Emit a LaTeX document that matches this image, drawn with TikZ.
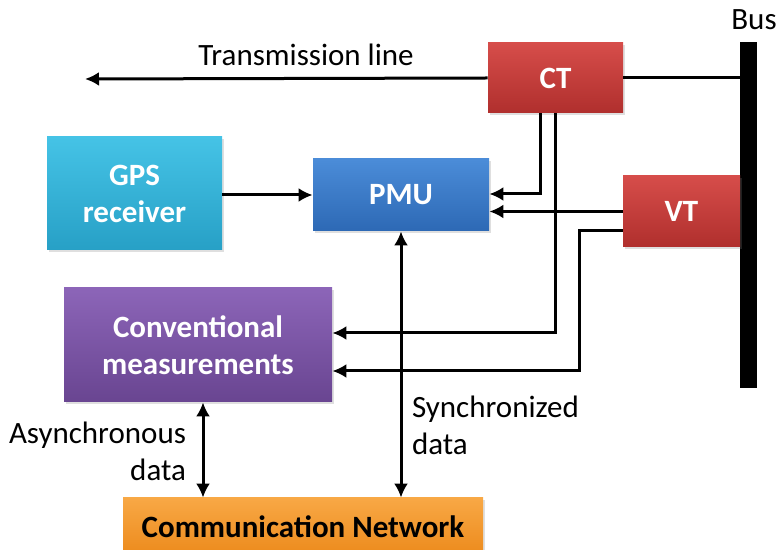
\documentclass[tikz,border=0pt]{standalone}
\usepackage{fontspec}
\setmainfont{Carlito}
\usetikzlibrary{arrows.meta,calc,shadows}

\definecolor{redtop}{HTML}{D64D4A}
\definecolor{redbot}{HTML}{B02F2D}
\definecolor{bluetop}{HTML}{4B8CD8}
\definecolor{bluebot}{HTML}{2D69B5}
\definecolor{cyantop}{HTML}{45C3E6}
\definecolor{cyanbot}{HTML}{27A0C6}
\definecolor{purptop}{HTML}{8C65B8}
\definecolor{purpbot}{HTML}{694591}
\definecolor{orgtop}{HTML}{F8A845}
\definecolor{orgbot}{HTML}{EC8A1C}

\begin{document}
\begin{tikzpicture}[x=0.5pt,y=-0.5pt,
    font=\fontsize{15.5}{18.5}\selectfont,
    box/.style={inner sep=0pt, align=center, text=white, font=\fontsize{15.5}{18.5}\selectfont\bfseries,
      drop shadow={shadow xshift=1pt, shadow yshift=-1pt, opacity=0.25}},
    arr/.style={line width=1.5pt, -{Latex[length=7pt,width=7pt]}},
    dblarr/.style={line width=1.5pt, {Latex[length=7pt,width=7pt]}-{Latex[length=7pt,width=7pt]}},
    wire/.style={line width=1.5pt}]
    \clip (0,0) rectangle (778,550);
    % bus
    \node [fill=black, inner sep=0pt, minimum width=8.5pt, minimum height=173pt] (bus) at (748.5,215) {};
    \node (buslabel) at (754,20) {Bus};
    % sensors
    \node [box, top color=redtop, bottom color=redbot, minimum width=67.5pt, minimum height=35pt] (ct) at (555.5,78) {CT};
    \node [box, top color=redtop, bottom color=redbot, minimum width=58.5pt, minimum height=35.5pt] (vt) at (681.5,211.5) {VT};
    % units
    \node [box, top color=bluetop, bottom color=bluebot, minimum width=88pt, minimum height=36pt] (pmu) at (401,195) {PMU};
    \node [box, top color=cyantop, bottom color=cyanbot, minimum width=87.5pt, minimum height=56.5pt] (gps) at (134.5,193.5) {GPS\\receiver};
    \node [box, top color=purptop, bottom color=purpbot, minimum width=134pt, minimum height=57pt] (conv) at (198,345) {Conventional\\measurements};
    \node [box, text=black, top color=orgtop, bottom color=orgbot, minimum width=180pt, minimum height=29pt] (comm) at (303,527) {Communication Network};
    % transmission line
    \coordinate (tlend) at (85,79);
    \draw [wire] (ct.east) -- (ct.east -| bus.west);
    \draw [arr] (ct.west) -- (tlend);
    \node (tllabel) at (306,55) {Transmission line};
    % into PMU
    \draw [arr] (gps.east |- pmu.west) -- (pmu.west);
    \draw [arr] ($(ct.south)+(-15.5,0)$) |- ($(pmu.east)+(0,-1)$);
    \draw [arr] (vt.west) -- (vt.west -| pmu.east);
    % into conventional
    \draw [arr] (ct.south) |- ($(conv.east)+(0,-12)$);
    \coordinate (vtbend) at (579,371);
    \draw [arr] ($(vt.west)+(0,19.5)$) -| (vtbend) -- (vtbend -| conv.east);
    % to network
    \draw [dblarr] (pmu.south) -- (pmu.south |- comm.north);
    \node [anchor=west, align=left] (synclabel) at (405,425) {Synchronized\\data};
    \draw [dblarr] ($(conv.south)+(5,0)$) -- ($(conv.south |- comm.north)+(5,0)$);
    \node [anchor=east, align=right] (asynclabel) at (193,451) {Asynchronous\\data};
\end{tikzpicture}
\end{document}
